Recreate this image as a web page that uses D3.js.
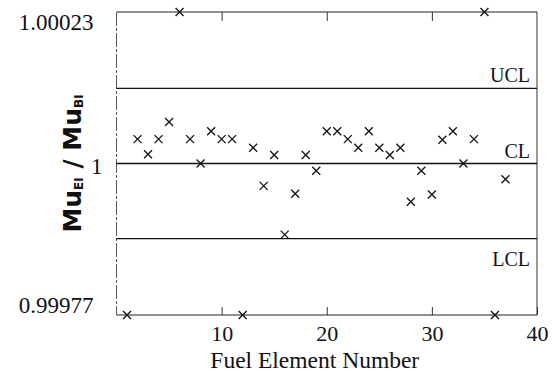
<!DOCTYPE html>
<meta charset="utf-8">
<script src="https://d3js.org/d3.v7.min.js"></script>
<style>
    body { margin: 0; background: #fff; }
    .serif { font-family: "Liberation Serif", "Times New Roman", serif; fill: #111; }
</style>
<div id="my_dataviz"></div>
<script>
    // fuel element number and measured ratio Mu_EI / Mu_BI
    var elements = [1, 2, 3, 4, 5, 6, 7, 8, 9, 10, 11, 12, 13, 14, 15, 16, 17, 18, 19,
        20, 21, 22, 23, 24, 25, 26, 27, 28, 29, 30, 31, 32, 33, 34, 35, 36, 37];
    var ratios = [0.99977, 1.000037, 1.000014, 1.000037, 1.000063, 1.00023, 1.000037,
        1.000000, 1.000049, 1.000037, 1.000037, 0.99977, 1.000024, 0.999966, 1.000013,
        0.999892, 0.999954, 1.000013, 0.999989, 1.000049, 1.000049, 1.000037, 1.000024,
        1.000049, 1.000024, 1.000013, 1.000024, 0.999942, 0.999989, 0.999953, 1.000036,
        1.000049, 1.000000, 1.000037, 1.00023, 0.99977, 0.999976];

    // control limits
    var limitNames = ["UCL", "CL", "LCL"];
    var limitValues = [1.000114, 1.0, 0.999886];

    var xTicks = [10, 20, 30, 40];
    var yTicks = [1.00023, 1, 0.99977];
    var yTickLabels = ["1.00023", "1", "0.99977"];

    var margin = { top: 12, right: 15, bottom: 58, left: 116.5 },
        width = 552 - margin.left - margin.right,
        height = 373 - margin.top - margin.bottom;

    var svg = d3.select("#my_dataviz")
        .append("svg")
        .attr("width", 552)
        .attr("height", 373)
        .append("g")
        .attr("transform", "translate(" + margin.left + "," + margin.top + ")");

    var x = d3.scaleLinear().domain([0, 40]).range([0, width]);
    var y = d3.scaleLinear().domain([0.99977, 1.00023]).range([height, 0]).clamp(true);

    // frame
    svg.append("line").attr("x1", 0).attr("x2", width).attr("y1", 0).attr("y2", 0)
        .attr("stroke", "#222").attr("stroke-width", 1.2);
    svg.append("line").attr("x1", 0).attr("x2", width).attr("y1", height).attr("y2", height)
        .attr("stroke", "#222").attr("stroke-width", 1.2);
    svg.append("line").attr("x1", width).attr("x2", width).attr("y1", 0).attr("y2", height)
        .attr("stroke", "#333").attr("stroke-width", 1);
    svg.append("line").attr("x1", 0).attr("x2", 0).attr("y1", 0).attr("y2", height)
        .attr("stroke", "#555").attr("stroke-width", 1)
        .attr("stroke-dasharray", "14,2,3,2");

    // bottom axis, ticks pointing inward
    var xAxis = svg.append("g")
        .attr("transform", "translate(0," + height + ")")
        .call(d3.axisBottom(x).tickValues(xTicks).tickSizeInner(-8).tickSizeOuter(0).tickPadding(10));
    xAxis.select(".domain").remove();
    xAxis.selectAll("line").attr("stroke", "#333");
    xAxis.selectAll("text").attr("class", "serif").style("font-size", "22px");

    // top ticks
    var xTop = svg.append("g")
        .call(d3.axisTop(x).tickValues([10, 20, 30]).tickSizeInner(-9).tickSizeOuter(0).tickFormat(""));
    xTop.select(".domain").remove();
    xTop.selectAll("line").attr("stroke", "#333");

    // y labels
    var yAxis = svg.append("g")
        .call(d3.axisLeft(y).tickValues(yTicks).tickSize(0).tickPadding(23)
            .tickFormat(function (d, i) { return yTickLabels[i]; }));
    yAxis.select(".domain").remove();
    yAxis.selectAll("text").attr("class", "serif").style("font-size", "23px")
        .attr("dy", function (d, i) { return i == 0 ? "0.75em" : (i == 2 ? "-0.1em" : "0.45em"); })
        .attr("dx", function (d, i) { return i == 1 ? "9px" : "0px"; });

    // control limit lines
    svg.selectAll("limitLine")
        .data(limitValues)
        .enter()
        .append("line")
        .attr("x1", 0)
        .attr("x2", width)
        .attr("y1", function (d) { return y(d); })
        .attr("y2", function (d) { return y(d); })
        .attr("stroke", "#111")
        .attr("stroke-width", 1.3);

    svg.selectAll("limitText")
        .data(limitNames)
        .enter()
        .append("text")
        .attr("class", "serif")
        .attr("x", width - 7)
        .attr("y", function (d, i) { return y(limitValues[i]); })
        .attr("dy", function (d, i) { return i == 2 ? 27 : -6; })
        .attr("text-anchor", "end")
        .style("font-size", "20px")
        .text(function (d) { return d; });

    // x markers
    var s = 4;
    var pts = svg.selectAll("pt")
        .data(elements)
        .enter()
        .append("path")
        .attr("d", function (d, i) {
            var px = x(d), py = y(ratios[i]);
            return "M" + (px - s) + "," + (py - s) + "L" + (px + s) + "," + (py + s) +
                "M" + (px - s) + "," + (py + s) + "L" + (px + s) + "," + (py - s);
        })
        .attr("stroke", "#111")
        .attr("stroke-width", 1.3)
        .attr("fill", "none");

    // axis titles
    svg.append("text")
        .attr("class", "serif")
        .attr("x", width / 2 - 12)
        .attr("y", height + 53)
        .attr("text-anchor", "middle")
        .style("font-size", "23.5px")
        .text("Fuel Element Number");

    var ylab = svg.append("text")
        .attr("transform", "translate(" + (-36) + "," + (height / 2) + ") rotate(-90)")
        .attr("text-anchor", "middle")
        .style("font-family", "'DejaVu Sans', sans-serif")
        .style("font-weight", "bold")
        .style("font-size", "25px")
        .attr("fill", "#111");
    ylab.append("tspan").text("Mu");
    ylab.append("tspan").text("EI").style("font-size", "12px").attr("dy", 2);
    ylab.append("tspan").text(" / ").attr("dy", -2);
    ylab.append("tspan").text("Mu");
    ylab.append("tspan").text("BI").style("font-size", "12px").attr("dy", 2);
</script>
